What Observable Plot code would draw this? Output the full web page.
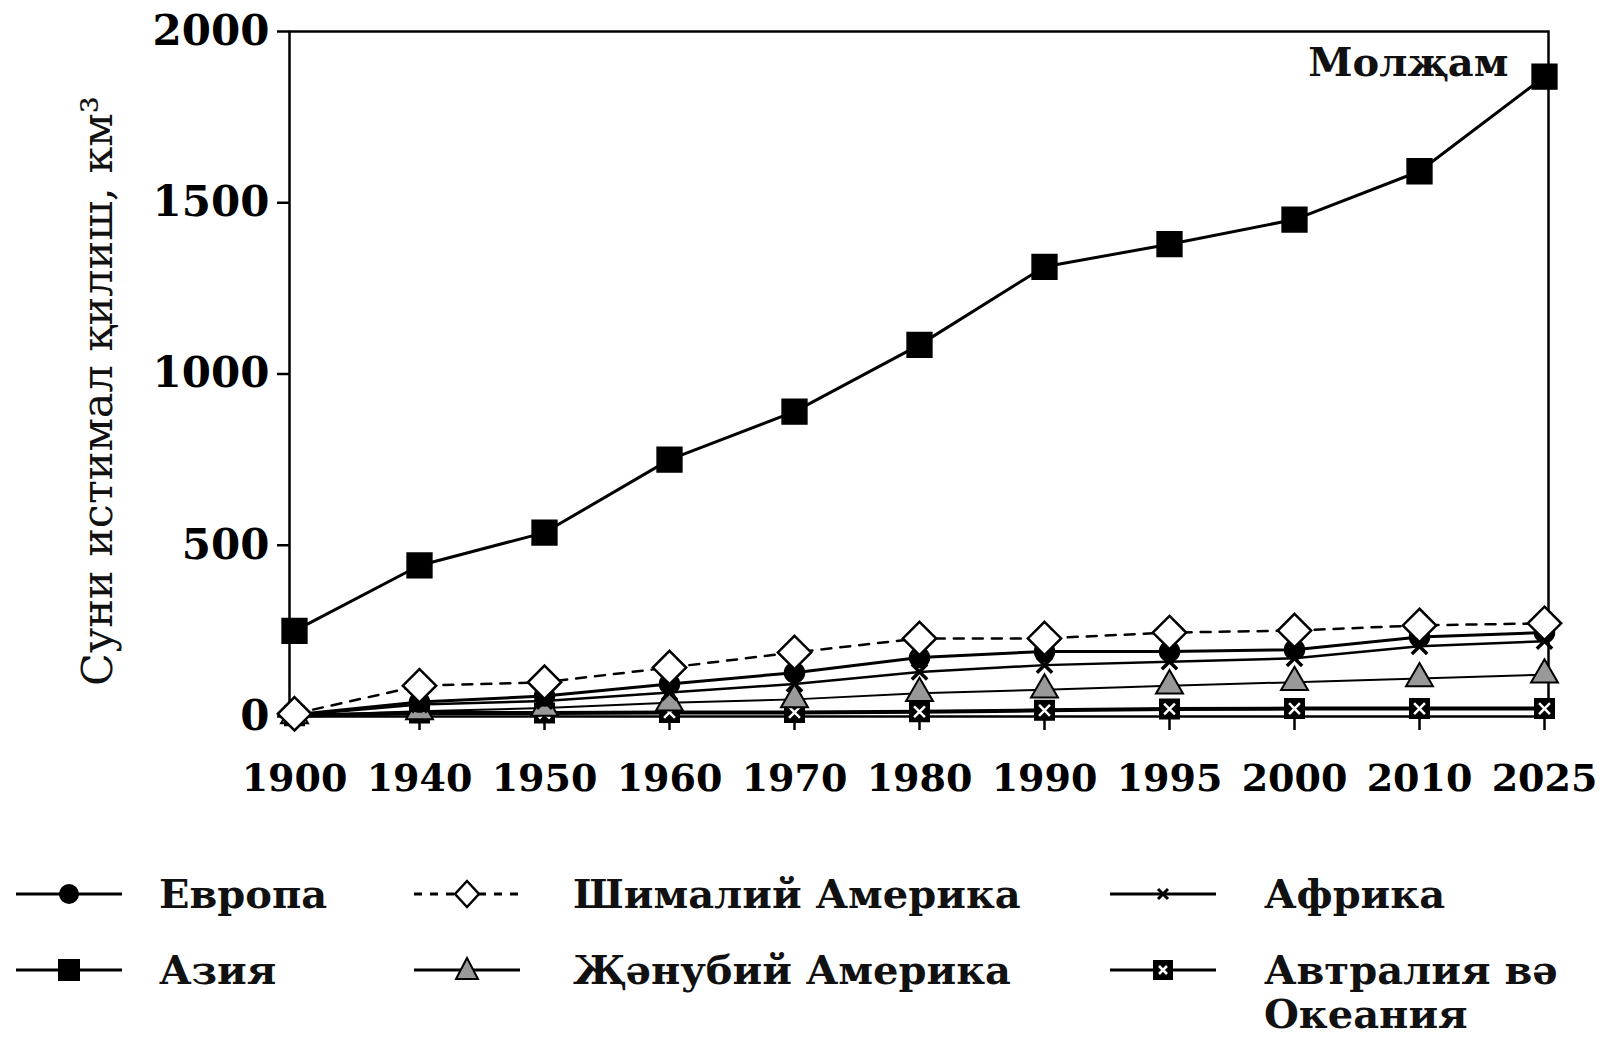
<!DOCTYPE html>
<html>
<head>
<meta charset="utf-8">
<script src="https://cdn.jsdelivr.net/npm/d3@7"></script>
<script src="https://cdn.jsdelivr.net/npm/@observablehq/plot@0.6"></script>
<style>
  html, body { margin: 0; padding: 0; background: white; }
  #wrap { position: relative; width: 1611px; height: 1039px; overflow: hidden; font-family: "DejaVu Serif", serif; }
  .lg { position: absolute; display: flex; align-items: center; }
  .lg span { font-weight: bold; font-size: 40px; line-height: 44px; color: #111; }
</style>
</head>
<body>
<div id="wrap"></div>
<script>
const years = ["1900","1940","1950","1960","1970","1980","1990","1995","2000","2010","2025"];
const asia          = [250, 441, 537, 750, 890, 1085, 1313, 1379, 1451, 1592, 1868];
const northAmerica  = [8, 90, 100, 143, 187, 228, 228, 245, 251, 266, 272];
const europe        = [5, 42, 60, 95, 128, 172, 190, 190, 195, 232, 245];
const africa        = [4, 35, 45, 70, 95, 130, 150, 160, 170, 205, 220];
const southAmerica  = [3, 15, 25, 40, 50, 68, 78, 90, 100, 111, 122];
const australia     = [2, 10, 10, 12, 12, 14, 18, 22, 23, 23, 23];
const legendLabels = ["Европа", "Шималий Америка", "Африка", "Азия", "Җәнубий Америка", "Автралия вә<br>Океания"];
const yTicks = [0, 500, 1000, 1500, 2000];
const yLabel = "Суни истимал қилиш, км³";
const note = "Молҗам";

const toRows = (vals) => years.map((y, i) => ({year: y, value: vals[i]}));
const A = toRows(asia), NA = toRows(northAmerica), EU = toRows(europe),
      AF = toRows(africa), SA = toRows(southAmerica), AU = toRows(australia);

const chart = Plot.plot({
  width: 1611, height: 830,
  marginTop: 31, marginBottom: 114, marginLeft: 289, marginRight: 63,
  style: {fontFamily: "DejaVu Serif", background: "white", color: "black"},
  x: {type: "point", domain: years, padding: 0},
  y: {domain: [0, 2000]},
  marks: [
    Plot.axisX({tickSize: 14, tickPadding: 34, fontSize: 38, fontWeight: "bold", strokeWidth: 2.5, label: null}),
    Plot.axisY({ticks: yTicks, tickFormat: d => String(d), tickSize: 12, tickPadding: 8, fontSize: 42, fontWeight: "bold", strokeWidth: 2.5, label: null}),
    Plot.frame({stroke: "black", strokeWidth: 2.5}),
    Plot.text([yLabel], {frameAnchor: "left", textAnchor: "middle", rotate: -90, dx: -191, dy: 17, fontSize: 43, fill: "#111"}),
    // Australia & Oceania
    Plot.line(AU, {x: "year", y: "value", stroke: "black", strokeWidth: 4}),
    Plot.dot(AU, {x: "year", y: "value", symbol: "square", r: 11, fill: "black", stroke: "black"}),
    Plot.dot(AU, {x: "year", y: "value", symbol: "times", r: 5, stroke: "white", strokeWidth: 2.5}),
    // South America
    Plot.line(SA, {x: "year", y: "value", stroke: "black", strokeWidth: 2}),
    Plot.dot(SA, {x: "year", y: "value", symbol: "triangle", r: 10, fill: "#999", stroke: "black", strokeWidth: 2}),
    // Africa
    Plot.line(AF, {x: "year", y: "value", stroke: "black", strokeWidth: 2.5}),
    Plot.dot(AF, {x: "year", y: "value", symbol: "times", r: 7, stroke: "black", strokeWidth: 3.5}),
    // Europe
    Plot.line(EU, {x: "year", y: "value", stroke: "black", strokeWidth: 3}),
    Plot.dot(EU, {x: "year", y: "value", symbol: "circle", r: 10, fill: "black", stroke: "black"}),
    // North America
    Plot.line(NA, {x: "year", y: "value", stroke: "black", strokeWidth: 2.5, strokeDasharray: "10,9"}),
    Plot.dot(NA, {x: "year", y: "value", symbol: "diamond2", r: 15, fill: "white", stroke: "black", strokeWidth: 2.5}),
    // Asia
    Plot.line(A, {x: "year", y: "value", stroke: "black", strokeWidth: 3}),
    Plot.dot(A, {x: "year", y: "value", symbol: "square", r: 14, fill: "black", stroke: "black"}),
    Plot.text([note], {x: () => years[years.length - 1], y: () => asia[asia.length - 1], dx: -36, dy: -14, textAnchor: "end", fontSize: 40, fontWeight: "bold", fill: "#111"})
  ]
});
const wrap = document.getElementById("wrap");
chart.style.position = "absolute";
chart.style.left = "0px";
chart.style.top = "0px";
wrap.appendChild(chart);

// Legend
function swatch(kind) {
  const w = 106, h = 44, cx = w / 2, cy = h / 2;
  const ns = "http://www.w3.org/2000/svg";
  const svg = document.createElementNS(ns, "svg");
  svg.setAttribute("width", w); svg.setAttribute("height", h);
  let s = "";
  const dash = kind === "na" ? ' stroke-dasharray="8,8"' : "";
  s += `<line x1="0" y1="${cy}" x2="${w}" y2="${cy}" stroke="black" stroke-width="3"${dash}/>`;
  if (kind === "eu") s += `<circle cx="${cx}" cy="${cy}" r="10" fill="black"/>`;
  if (kind === "na") s += `<path d="M${cx},${cy-13}L${cx+12},${cy}L${cx},${cy+13}L${cx-12},${cy}Z" fill="white" stroke="black" stroke-width="2.5"/>`;
  if (kind === "af") s += `<path d="M${cx-5},${cy-5}L${cx+5},${cy+5}M${cx+5},${cy-5}L${cx-5},${cy+5}" stroke="black" stroke-width="3"/>`;
  if (kind === "as") s += `<rect x="${cx-11}" y="${cy-11}" width="22" height="22" fill="black"/>`;
  if (kind === "sa") s += `<path d="M${cx},${cy-12}L${cx+11},${cy+9}L${cx-11},${cy+9}Z" fill="#999" stroke="black" stroke-width="2"/>`;
  if (kind === "au") s += `<rect x="${cx-10}" y="${cy-10}" width="20" height="20" fill="black"/><path d="M${cx-4},${cy-4}L${cx+4},${cy+4}M${cx+4},${cy-4}L${cx-4},${cy+4}" stroke="white" stroke-width="2.5"/>`;
  svg.innerHTML = s;
  return svg;
}
const kinds = ["eu", "na", "af", "as", "sa", "au"];
const colX = [[16, 159], [414, 573], [1110, 1264]];
const rowY = [872, 948];
kinds.forEach((k, i) => {
  const col = i % 3, row = Math.floor(i / 3);
  const sw = swatch(k);
  sw.style.position = "absolute";
  sw.style.left = colX[col][0] + "px";
  sw.style.top = rowY[row] + "px";
  wrap.appendChild(sw);
  const t = document.createElement("div");
  t.className = "lg";
  t.style.left = colX[col][1] + "px";
  t.style.top = rowY[row] + "px";
  t.innerHTML = `<span>${legendLabels[i]}</span>`;
  wrap.appendChild(t);
});
</script>
</body>
</html>
